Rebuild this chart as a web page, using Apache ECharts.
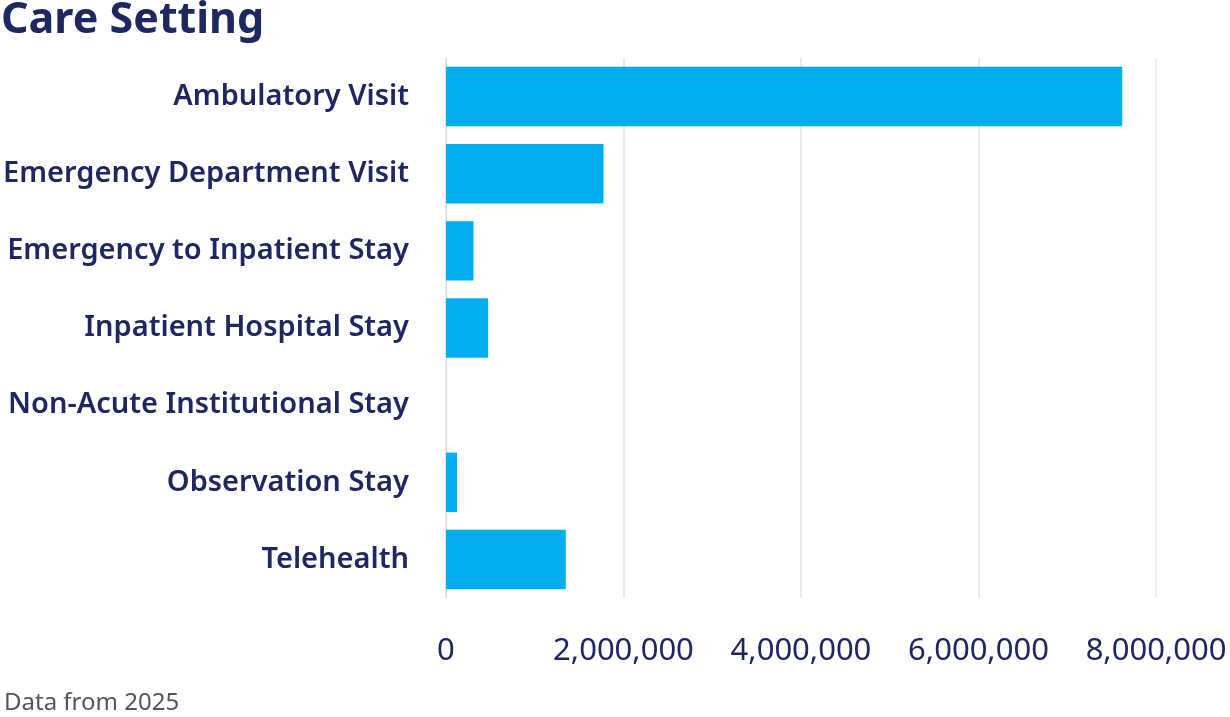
<!DOCTYPE html>
<html><head><meta charset="utf-8">
<script src="https://cdn.jsdelivr.net/npm/echarts@6/dist/echarts.min.js"></script>
<style>html,body{margin:0;padding:0;background:#fff}#c{width:1230px;height:717px}</style>
</head><body><div id="c"></div>
<script>
const categories = ["Ambulatory Visit","Emergency Department Visit","Emergency to Inpatient Stay","Inpatient Hospital Stay","Non-Acute Institutional Stay","Observation Stay","Telehealth"];
const values = [7620000, 1775000, 310000, 475000, 0, 125000, 1350000];
const xTicks = [0, 2000000, 4000000, 6000000, 8000000];
const navy = '#1f2761';
const chart = echarts.init(document.getElementById('c'));
chart.setOption({
  animation:false,
  title:[{text:'Care Setting',left:-4,top:-6,textStyle:{fontFamily:'Noto Sans',fontWeight:700,fontSize:43,color:navy}},
         {text:'Data from 2025',left:-1,top:686,textStyle:{fontFamily:'Noto Sans',fontWeight:400,fontSize:24,color:'#555'}}],
  grid:{left:445,right:74,top:58,bottom:119,containLabel:false},
  xAxis:{type:'value',min:0,max:8000000,interval:2000000,
    axisLine:{show:false},axisTick:{show:false},
    splitLine:{lineStyle:{color:'#e3e3e3',width:1.5}},
    axisLabel:{margin:38,fontFamily:'Noto Sans',fontSize:31,color:navy,
      formatter:v=>xTicks.includes(v)?v.toLocaleString('en-US'):''}},
  yAxis:{type:'category',data:categories,inverse:true,
    axisLine:{show:true,lineStyle:{color:'#d9d9d9',width:1}},axisTick:{show:false},
    axisLabel:{margin:37,fontFamily:'Noto Sans',fontWeight:600,fontSize:29,color:navy,padding:[8,0,0,0]}},
  series:[{type:'bar',data:values,barCategoryGap:'23%',itemStyle:{color:'#00aeef'}}]
});
</script></body></html>
